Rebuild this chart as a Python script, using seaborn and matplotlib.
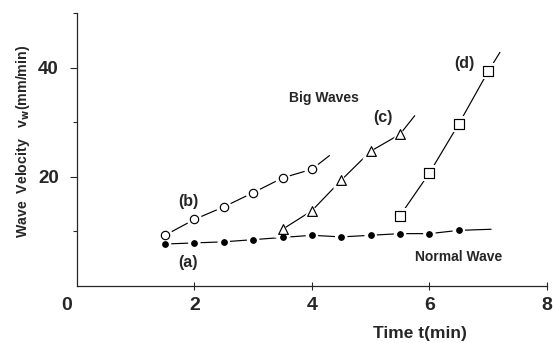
import pandas as pd
import matplotlib.pyplot as plt
import matplotlib.transforms as mtransforms
import seaborn as sns

# values
t_a = [1.5, 2.0, 2.5, 3.0, 3.5, 4.0, 4.5, 5.0, 5.5, 6.0, 6.5]
v_a = [7.7, 7.9, 8.1, 8.5, 8.9, 9.3, 9.0, 9.3, 9.6, 9.6, 10.2]
t_b = [1.5, 2.0, 2.5, 3.0, 3.5, 4.0]
v_b = [9.3, 12.2, 14.5, 17.1, 19.8, 21.4]
t_c = [3.5, 4.0, 4.5, 5.0, 5.5]
v_c = [10.4, 13.8, 19.4, 24.7, 27.8]
t_d = [5.5, 6.0, 6.5, 7.0]
v_d = [12.9, 20.7, 29.7, 39.3]

# where each drawn line runs out past the last point
end_t = {'a': 7.05, 'b': 4.3, 'c': 5.75, 'd': 7.2}
end_v = {'a': 10.4, 'b': 23.9, 'c': 31.2, 'd': 42.8}

sns.set_style('ticks')
plt.rcParams['font.family'] = ['Liberation Sans', 'DejaVu Sans']
plt.rcParams['font.weight'] = 'bold'

fig = plt.figure(figsize=(5.53, 3.43), dpi=100)
ax = fig.add_axes([0.139, 0.166, 0.85, 0.796])

series = [
    ('a', t_a, v_a, 'o', 4, 'black'),
    ('b', t_b, v_b, 'o', 6, 'white'),
    ('c', t_c, v_c, '^', 7, 'white'),
    ('d', t_d, v_d, 's', 6.5, 'white'),
]

for key, t, v, mk, ms, face in series:
    line_df = pd.DataFrame({'t': t + [end_t[key]], 'v': v + [end_v[key]]})
    sns.lineplot(data=line_df, x='t', y='v', ax=ax, color='black',
                 linewidth=0.85, sort=False, estimator=None)
    pts = pd.DataFrame({'t': t, 'v': v})
    # white halo so the line breaks around each marker
    sns.scatterplot(data=pts, x='t', y='v', ax=ax, marker=mk,
                    s=(ms + 5) ** 2, color='white', edgecolor='none', zorder=3)
    sns.scatterplot(data=pts, x='t', y='v', ax=ax, marker=mk,
                    s=ms ** 2, facecolor=face, edgecolor='black',
                    linewidth=0.85, zorder=4)

ax.set_xlim(0, 8)
ax.set_ylim(0, 50)
ax.set_xticks([0, 2, 4, 6, 8])
ax.set_xticklabels(['0', '2', '4', '6', '8'], fontsize=14, fontweight='bold')
ax.set_yticks([20, 40])
ax.set_yticklabels(['20', '40'], fontsize=13.5, fontweight='bold')
ax.set_yticks([10, 30, 50], minor=True)
ax.tick_params(axis='x', direction='inout', length=6, width=0.8, pad=5)
ax.tick_params(axis='y', which='major', direction='out', length=5, width=0.8, pad=8)
ax.tick_params(axis='y', which='minor', direction='out', length=3, width=0.8)
ax.xaxis.get_major_ticks()[0].tick1line.set_visible(False)
# the "0" sits a little left of the origin
zero = ax.get_xticklabels()[0]
zero.set_transform(zero.get_transform() +
                   mtransforms.ScaledTranslation(-0.1, 0, fig.dpi_scale_trans))

sns.despine(ax=ax)
for s in ['left', 'bottom']:
    ax.spines[s].set_linewidth(0.9)

ax.set_xlabel('Time t(min)', fontsize=12.5, fontweight='bold', va='center')
ax.xaxis.set_label_coords(0.73, -0.172)
ax.set_ylabel('Wave  Velocity   v$_\\mathbf{w}$(mm/min)', fontsize=10.2,
              fontweight='bold')
ax.yaxis.set_label_coords(-0.096, 0.53)

txt = dict(fontsize=10, fontweight='bold', ha='center', va='center')
ax.text(4.21, 34.4, 'Big Waves', **txt)
ax.text(6.49, 5.4, 'Normal Wave', **txt)
lab = dict(fontsize=11.5, fontweight='bold', ha='center', va='center')
ax.text(1.89, 15.5, '(b)', **lab)
ax.text(1.89, 4.4, '(a)', **lab)
ax.text(5.21, 30.8, '(c)', **lab)
ax.text(6.59, 40.7, '(d)', **lab)

fig.savefig('out.png', dpi=100)
